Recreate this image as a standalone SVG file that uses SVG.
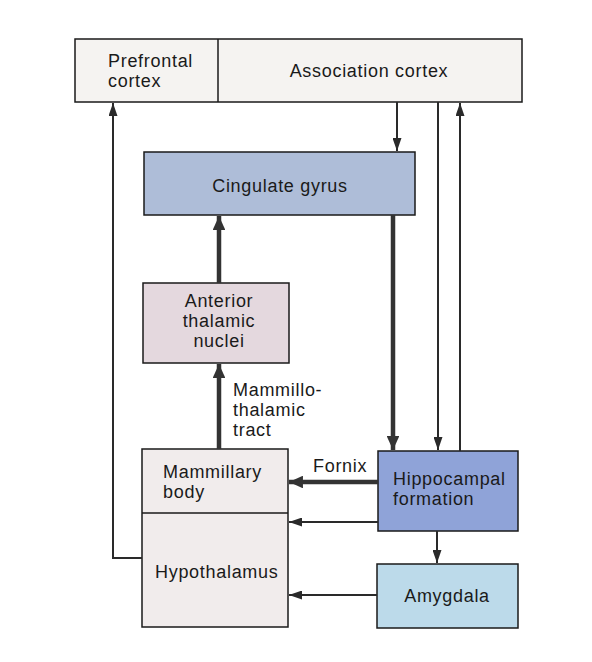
<svg xmlns="http://www.w3.org/2000/svg" width="592" height="662" viewBox="0 0 592 662">
<style>
.box{stroke:#1a1a1a;stroke-width:1.5}
.t{font-family:"Liberation Sans",Arial,sans-serif;font-size:18px;letter-spacing:0.7px;fill:#1a1a1a}
.thin{stroke:#2a2a2a;stroke-width:2;fill:none}
.thick{stroke:#333;stroke-width:4.5;fill:none}
</style>
<defs>
<marker id="ah" viewBox="0 0 10 10" refX="10" refY="5" markerWidth="6.5" markerHeight="4.5" markerUnits="strokeWidth" orient="auto" preserveAspectRatio="none">
<path d="M0,0 L10,5 L0,10 z" fill="#2a2a2a"/>
</marker>
<marker id="ahk" viewBox="0 0 10 10" refX="10" refY="5" markerWidth="3.1" markerHeight="2.8" markerUnits="strokeWidth" orient="auto" preserveAspectRatio="none">
<path d="M0,0 L10,5 L0,10 z" fill="#333"/>
</marker>
</defs>
<rect width="592" height="662" fill="#ffffff"/>

<g id="cortex">
<rect class="box" x="75" y="39" width="447" height="63" fill="#f5f3f1"/>
<line x1="218" y1="39" x2="218" y2="102" stroke="#1a1a1a" stroke-width="1.5"/>
<text class="t" x="108" y="67">Prefrontal</text>
<text class="t" x="108" y="87">cortex</text>
<text class="t" x="369" y="77" text-anchor="middle">Association cortex</text>
</g>

<g id="cingulate">
<rect class="box" x="144" y="152" width="271" height="63" fill="#aebdd8"/>
<text class="t" x="280" y="192" text-anchor="middle">Cingulate gyrus</text>
</g>

<g id="anterior">
<rect class="box" x="143" y="283" width="146" height="80" fill="#e4d8de"/>
<text class="t" x="219" y="307" text-anchor="middle">Anterior</text>
<text class="t" x="219" y="327" text-anchor="middle">thalamic</text>
<text class="t" x="219" y="347" text-anchor="middle">nuclei</text>
</g>

<g id="mammillary-hypothalamus">
<rect class="box" x="142" y="449" width="146" height="178" fill="#f1ecec"/>
<line x1="142" y1="513" x2="288" y2="513" stroke="#1a1a1a" stroke-width="1.5"/>
<text class="t" x="163" y="478">Mammillary</text>
<text class="t" x="163" y="498">body</text>
<text class="t" x="155" y="578">Hypothalamus</text>
</g>

<g id="hippocampal">
<rect class="box" x="378" y="451" width="140" height="80" fill="#8fa3d8"/>
<text class="t" x="393" y="485">Hippocampal</text>
<text class="t" x="393" y="505">formation</text>
</g>

<g id="amygdala">
<rect class="box" x="377" y="564" width="141" height="64" fill="#bcdaea"/>
<text class="t" x="447" y="602" text-anchor="middle">Amygdala</text>
</g>

<g id="connectors">
<line class="thin" x1="397" y1="102" x2="397" y2="151" marker-end="url(#ah)"/>
<line class="thin" x1="438" y1="102" x2="438" y2="450" marker-end="url(#ah)"/>
<line class="thin" x1="460" y1="451" x2="460" y2="103" marker-end="url(#ah)"/>
<line class="thick" x1="393" y1="215" x2="393" y2="450" marker-end="url(#ahk)"/>
<line class="thick" x1="219" y1="283" x2="219" y2="216" marker-end="url(#ahk)"/>
<line class="thick" x1="219" y1="449" x2="219" y2="364" marker-end="url(#ahk)"/>
<text class="t" x="233" y="396">Mammillo-</text>
<text class="t" x="233" y="416">thalamic</text>
<text class="t" x="233" y="436">tract</text>
<line class="thick" x1="378" y1="482" x2="289" y2="482" marker-end="url(#ahk)"/>
<text class="t" x="313" y="472">Fornix</text>
<line class="thin" x1="378" y1="522" x2="289" y2="522" marker-end="url(#ah)"/>
<line class="thin" x1="437" y1="531" x2="437" y2="563" marker-end="url(#ah)"/>
<line class="thin" x1="377" y1="595" x2="289" y2="595" marker-end="url(#ah)"/>
<polyline class="thin" points="142,558 113,558 113,103" marker-end="url(#ah)"/>
</g>
</svg>
